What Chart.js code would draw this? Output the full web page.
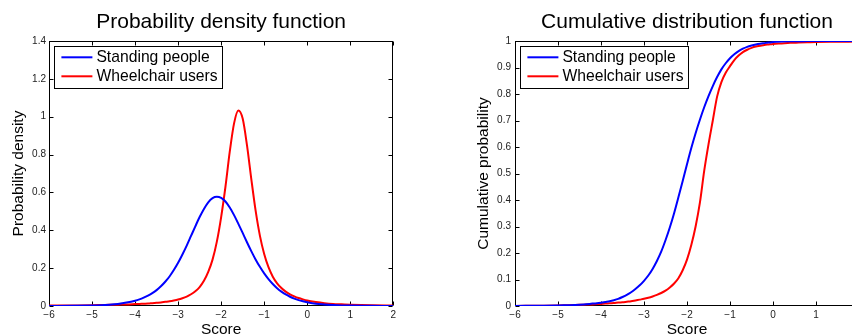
<!DOCTYPE html>
<html><head><meta charset="utf-8">
<script src="https://cdn.jsdelivr.net/npm/chart.js@4/dist/chart.umd.min.js"></script>
<style>
html,body{margin:0;padding:0;overflow:hidden;background:#fff;width:852px;height:336px;}
#w1{position:absolute;left:0;top:0;width:426px;height:336px;}
#w2{position:absolute;left:466px;top:0;width:434px;height:336px;}
</style></head><body>
<div id="w1"><canvas id="c1"></canvas></div>
<div id="w2"><canvas id="c2"></canvas></div>
<script>
const seriesNames = ['Standing people', 'Wheelchair users'];
const scores = [-6.0,-5.5,-5.0,-4.8,-4.6,-4.4,-4.2,-4.0,-3.9,-3.8,-3.7,-3.6,-3.5,-3.4,-3.3,-3.2,-3.1,-3.0,-2.9,-2.8,-2.7,-2.6,-2.5,-2.4,-2.3,-2.2,-2.1,-2.0,-1.9,-1.8,-1.7,-1.6,-1.5,-1.4,-1.3,-1.2,-1.1,-1.0,-0.9,-0.8,-0.7,-0.6,-0.5,-0.4,-0.3,-0.2,-0.1,0.0,0.2,0.4,0.6,0.8,1.0,1.5,2.0];
const pdfStanding = [0.000,0.001,0.003,0.0045,0.007,0.011,0.018,0.028,0.035,0.044,0.055,0.068,0.084,0.104,0.128,0.156,0.190,0.228,0.272,0.319,0.370,0.421,0.470,0.513,0.548,0.570,0.577,0.571,0.552,0.520,0.480,0.434,0.386,0.337,0.290,0.246,0.207,0.172,0.142,0.116,0.094,0.076,0.061,0.049,0.039,0.031,0.025,0.020,0.012,0.008,0.005,0.003,0.002,0.001,0.000];
const pdfWheelchair = [0.002,0.003,0.004,0.005,0.006,0.007,0.008,0.010,0.011,0.012,0.013,0.015,0.017,0.019,0.022,0.025,0.029,0.034,0.041,0.050,0.062,0.078,0.100,0.133,0.180,0.245,0.340,0.470,0.630,0.815,0.965,1.033,0.990,0.850,0.672,0.505,0.372,0.275,0.205,0.155,0.120,0.095,0.076,0.062,0.051,0.042,0.035,0.029,0.021,0.015,0.011,0.009,0.007,0.004,0.003];
const cdfStanding = [0.000,0.001,0.002,0.003,0.004,0.006,0.009,0.012,0.015,0.018,0.022,0.027,0.034,0.042,0.052,0.064,0.078,0.095,0.115,0.140,0.170,0.205,0.248,0.296,0.350,0.410,0.472,0.535,0.596,0.652,0.703,0.750,0.792,0.830,0.864,0.893,0.916,0.935,0.950,0.962,0.971,0.978,0.983,0.987,0.990,0.992,0.994,0.996,0.998,0.999,0.999,1.000,1.000,1.000,1.000];
const cdfWheelchair = [0.000,0.001,0.002,0.003,0.004,0.005,0.006,0.008,0.009,0.010,0.011,0.013,0.014,0.016,0.018,0.021,0.024,0.027,0.031,0.036,0.042,0.049,0.058,0.070,0.085,0.105,0.135,0.175,0.230,0.300,0.390,0.510,0.610,0.700,0.790,0.845,0.880,0.905,0.928,0.945,0.958,0.967,0.974,0.979,0.982,0.985,0.987,0.989,0.991,0.993,0.994,0.995,0.996,0.997,0.998];
const xTickLabels = ['\u22126','\u22125','\u22124','\u22123','\u22122','\u22121','0','1','2'];
const yTickLabelsPdf = ['0','0.2','0.4','0.6','0.8','1','1.2','1.4'];
const yTickLabelsCdf = ['0','0.1','0.2','0.3','0.4','0.5','0.6','0.7','0.8','0.9','1'];
const colors = ['#0000ff', '#ff0000'];
const FONT = "'Liberation Sans', Arial, Helvetica, sans-serif";

const framePlugin = {
  id: 'frame',
  beforeDatasetsDraw(chart) {
    const {ctx, chartArea: a, scales: {x, y}} = chart;
    ctx.save();
    ctx.strokeStyle = '#000';
    ctx.lineWidth = 1;
    const L = Math.round(a.left) + 0.5, R = Math.round(a.right) - 0.5;
    const T = Math.round(a.top) + 0.5, B = Math.round(a.bottom) - 0.5;
    ctx.strokeRect(L, T, R - L, B - T);
    const len = 4;
    ctx.beginPath();
    x.ticks.forEach(t => {
      const px = Math.round(x.getPixelForValue(t.value)) + 0.5;
      ctx.moveTo(px, B); ctx.lineTo(px, B - len);
      ctx.moveTo(px, T); ctx.lineTo(px, T + len);
    });
    y.ticks.forEach(t => {
      const py = Math.round(y.getPixelForValue(t.value)) + 0.5;
      ctx.moveTo(L, py); ctx.lineTo(L + len, py);
      ctx.moveTo(R, py); ctx.lineTo(R - len, py);
    });
    ctx.stroke();
    ctx.restore();
  }
};

const legendPlugin = {
  id: 'boxLegend',
  afterDatasetsDraw(chart) {
    const {ctx, chartArea: a} = chart;
    const ds = chart.data.datasets;
    ctx.save();
    ctx.font = '15.7px ' + FONT;
    let maxW = 0;
    ds.forEach(d => { maxW = Math.max(maxW, ctx.measureText(d.label).width); });
    const bx = Math.round(a.left + 5) + 0.5, by = Math.round(a.top + 5) + 0.5;
    const bw = Math.round(42.4 + maxW + 4), bh = 42;
    ctx.fillStyle = '#fff';
    ctx.fillRect(bx, by, bw, bh);
    ctx.strokeStyle = '#000';
    ctx.lineWidth = 1;
    ctx.strokeRect(bx, by, bw, bh);
    ds.forEach((d, i) => {
      const cy = a.top + 16.3 + i * 19;
      ctx.strokeStyle = d.borderColor;
      ctx.lineWidth = 2;
      ctx.beginPath();
      ctx.moveTo(a.left + 12.4, cy);
      ctx.lineTo(a.left + 43.4, cy);
      ctx.stroke();
      ctx.fillStyle = '#000';
      ctx.textBaseline = 'middle';
      ctx.textAlign = 'left';
      ctx.fillText(d.label, a.left + 47.4, cy + 0.3);
    });
    ctx.restore();
  }
};

function makeData(a, b) {
  return {
    datasets: [a, b].map((vals, i) => ({
      label: seriesNames[i],
      data: scores.map((s, k) => ({x: s, y: vals[k]})),
      borderColor: colors[i],
      backgroundColor: colors[i],
      borderWidth: 2,
      pointRadius: 0,
      fill: false,
      cubicInterpolationMode: 'monotone'
    }))
  };
}

function makeOptions(title, yTitle, yMax, yStep, yLabels, padRight, yTitlePad, yTickPad) {
  return {
    responsive: true,
    maintainAspectRatio: false,
    animation: false,
    events: [],
    layout: {padding: {left: 0, right: padRight, top: 0, bottom: 0}},
    plugins: {
      legend: {display: false},
      tooltip: {enabled: false},
      title: {
        display: true, text: title, color: '#000', fullSize: false,
        font: {family: FONT, size: 21, weight: 'normal', lineHeight: 1.2},
        padding: {top: 9.6, bottom: 6.2}
      }
    },
    scales: {
      x: {
        type: 'linear', min: -6, max: 2,
        grid: {display: false, drawTicks: false},
        border: {display: false},
        ticks: {
          stepSize: 1, autoSkip: false, maxRotation: 0, padding: 3,
          color: '#222', font: {family: FONT, size: 10},
          callback: (v, i) => xTickLabels[i]
        },
        title: {display: true, text: 'Score', color: '#000',
          font: {family: FONT, size: 15.5, lineHeight: 0.8}, padding: 0},
        afterFit: s => { s.height = 30; }
      },
      y: {
        type: 'linear', min: 0, max: yMax,
        grid: {display: false, drawTicks: false},
        border: {display: false},
        ticks: {
          stepSize: yStep, autoSkip: false, padding: yTickPad,
          color: '#222', font: {family: FONT, size: 10},
          callback: (v, i) => yLabels[i]
        },
        title: {display: true, text: yTitle, color: '#000',
          font: {family: FONT, size: 15.5, lineHeight: 1.2}, padding: {top: yTitlePad, bottom: 0}},
        afterFit: s => { s.width = 49; }
      }
    }
  };
}

new Chart(document.getElementById('c1'), {
  type: 'line',
  data: makeData(pdfStanding, pdfWheelchair),
  options: makeOptions('Probability density function', 'Probability density', 1.4, 0.2, yTickLabelsPdf, 32.7, 9.2, 3),
  plugins: [framePlugin, legendPlugin]
});
new Chart(document.getElementById('c2'), {
  type: 'line',
  data: makeData(cdfStanding, cdfWheelchair),
  options: makeOptions('Cumulative distribution function', 'Cumulative probability', 1, 0.1, yTickLabelsCdf, 41, 8, 4),
  plugins: [framePlugin, legendPlugin]
});
</script>
</body></html>
